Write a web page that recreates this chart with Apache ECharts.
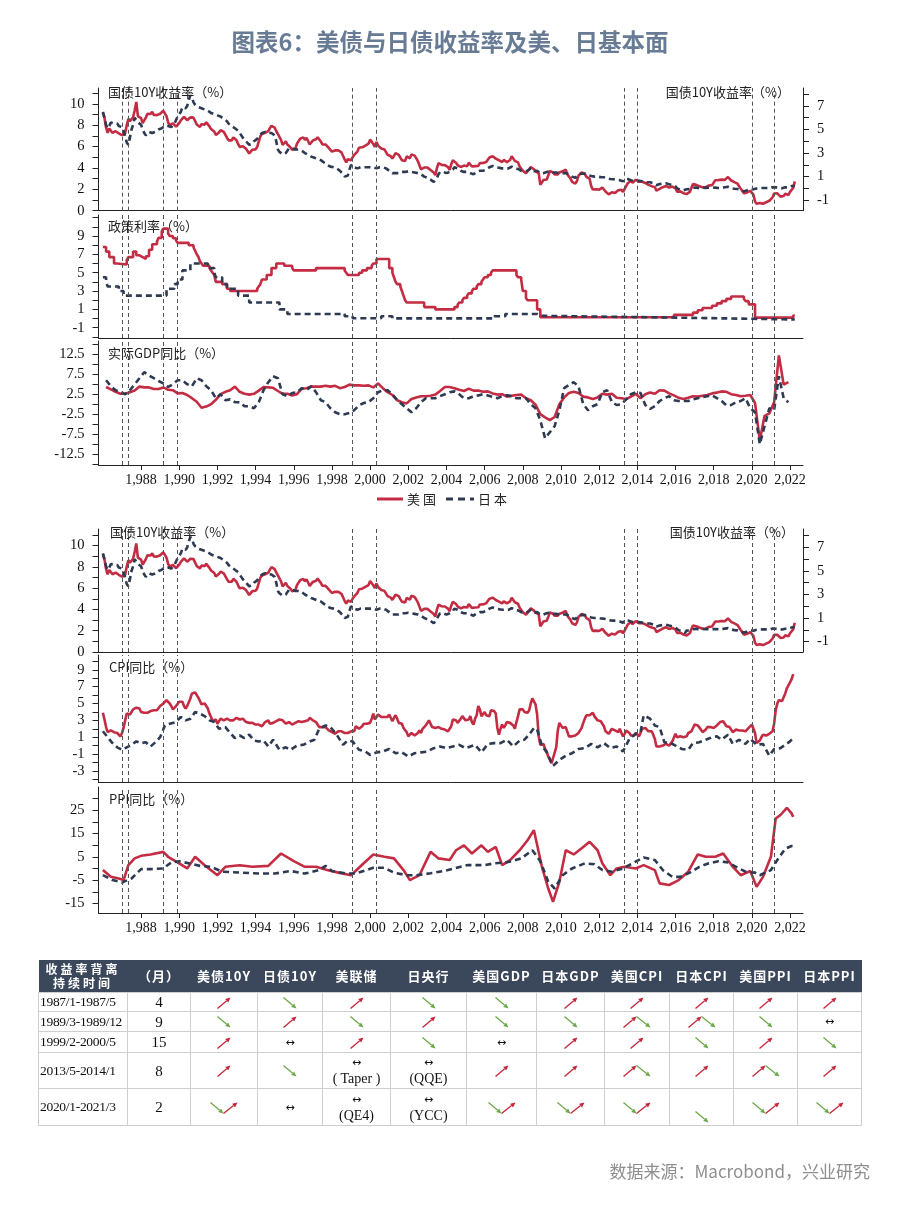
<!DOCTYPE html>
<html><head><meta charset="utf-8">
<script src="https://cdn.jsdelivr.net/npm/echarts@6/dist/echarts.min.js"></script>
<style>
html,body{margin:0;padding:0;background:#fff;}
#chart{position:absolute;left:0;top:0;width:900px;height:1218px;}
#tbl{position:absolute;left:38px;top:960px;width:823px;border-collapse:collapse;table-layout:fixed;}
#tbl th{background:#3b475a;color:#fff;font-family:"Noto Sans CJK SC",sans-serif;font-weight:bold;font-size:13px;letter-spacing:1px;padding:0;height:32px;line-height:14px;border:none;white-space:nowrap;}
#tbl td{border:1px solid #cfcfcf;text-align:center;vertical-align:middle;padding:0;font-family:"Liberation Serif",serif;font-size:14px;color:#111;line-height:16px;white-space:nowrap;}
#tbl td.p{text-align:left;padding-left:1px;font-size:13.5px;letter-spacing:-0.3px;}
#tbl td.m{font-size:15px;}
#tbl svg{display:inline-block;vertical-align:middle;}
.h{font-family:"DejaVu Sans",sans-serif;font-size:11px;}
</style></head><body>
<div id="chart"></div>
<table id="tbl"></table>
<script>
// ---------------- DATA ----------------
const START_YEAR = 1986; // monthly / quarterly arrays start in Jan 1986
const yearTicks = [1988,1990,1992,1994,1996,1998,2000,2002,2004,2006,2008,2010,2012,2014,2016,2018,2020,2022];
const divergenceDates = ['1987-01','1987-05','1989-03','1989-12','1999-02','2000-05','2013-05','2014-01','2020-01','2021-03'];

// US 10Y yield, monthly from 1986-01
const us10y = [
9.19,8.70,7.78,7.30,7.71,7.80,7.30,7.17,7.45,7.43,7.25,7.11,
7.08,7.25,7.25,8.02,8.61,8.40,8.45,8.76,9.42,10.2,8.86,8.99,
8.67,8.21,8.37,8.72,9.09,8.92,9.06,9.26,8.98,8.80,8.96,9.11,
9.09,9.17,9.36,9.18,8.86,8.28,8.02,8.11,8.19,8.01,7.87,7.84,
8.21,8.47,8.59,8.79,8.76,8.48,8.47,8.75,8.89,8.72,8.39,8.08,
8.09,7.85,8.11,8.04,8.07,8.28,8.27,7.90,7.65,7.53,7.42,7.09,
7.03,7.34,7.54,7.48,7.39,7.26,6.84,6.59,6.42,6.59,6.87,6.77,
6.60,6.26,5.98,5.97,6.04,5.96,5.81,5.68,5.36,5.33,5.72,5.77,
5.75,5.97,6.48,6.97,7.18,7.10,7.30,7.24,7.46,7.74,7.96,7.81,
7.78,7.47,7.20,7.06,6.63,6.17,6.28,6.49,6.20,6.04,5.93,5.71,
5.65,5.81,6.27,6.51,6.74,6.91,6.87,6.64,6.83,6.53,6.20,6.30,
6.58,6.42,6.69,6.89,6.71,6.49,6.22,6.30,6.21,6.03,5.88,5.81,
5.54,5.57,5.65,5.64,5.65,5.50,5.46,5.34,4.81,4.53,4.83,4.65,
4.72,5.00,5.23,5.18,5.54,5.90,5.79,5.94,5.92,6.11,6.03,6.28,
6.66,6.52,6.26,5.99,6.44,6.10,6.05,5.83,5.80,5.74,5.72,5.24,
5.16,5.10,4.89,5.14,5.39,5.28,5.24,4.97,4.73,4.57,4.65,5.09,
5.04,4.91,5.28,5.21,5.16,4.93,4.65,4.26,3.87,3.94,4.05,4.03,
4.05,3.90,3.81,3.96,3.57,3.33,3.98,4.45,4.27,4.29,4.30,4.27,
4.15,4.08,3.83,4.35,4.72,4.73,4.50,4.28,4.13,4.10,4.19,4.23,
4.22,4.17,4.50,4.34,4.14,4.00,4.18,4.26,4.20,4.46,4.54,4.47,
4.42,4.57,4.72,4.99,5.11,5.11,5.09,4.88,4.72,4.73,4.60,4.56,
4.76,4.72,4.56,4.69,4.75,5.10,5.00,4.67,4.52,4.53,4.15,4.10,
3.74,3.74,3.51,3.68,3.88,4.10,4.01,3.89,3.69,3.81,3.53,2.42,
2.52,2.87,2.82,2.93,3.29,3.72,3.56,3.59,3.40,3.39,3.40,3.59,
3.73,3.69,3.73,3.85,3.42,3.20,3.01,2.70,2.65,2.54,2.76,3.29,
3.39,3.58,3.41,3.46,3.17,3.00,3.00,2.30,1.98,2.15,2.01,1.98,
1.97,1.97,2.17,2.05,1.80,1.62,1.53,1.68,1.72,1.75,1.65,1.72,
1.91,1.98,1.96,1.76,1.93,2.30,2.58,2.74,2.81,2.62,2.72,2.90,
2.86,2.71,2.72,2.71,2.56,2.60,2.54,2.42,2.53,2.30,2.33,2.21,
1.88,1.98,2.04,1.94,2.20,2.36,2.32,2.17,2.17,2.07,2.26,2.24,
2.09,1.78,1.89,1.81,1.81,1.64,1.50,1.56,1.63,1.76,2.14,2.49,
2.43,2.42,2.48,2.30,2.30,2.19,2.32,2.21,2.20,2.36,2.35,2.40,
2.58,2.86,2.84,2.87,2.98,2.91,2.89,2.89,3.00,3.15,3.12,2.83,
2.71,2.68,2.57,2.53,2.40,2.07,2.06,1.63,1.70,1.71,1.81,1.86,
1.76,1.50,0.87,0.66,0.67,0.73,0.62,0.65,0.68,0.79,0.87,0.93,
1.08,1.26,1.61,1.64,1.62,1.52,1.32,1.28,1.37,1.58,1.56,1.47,
1.76,1.93,2.13,2.75];

// Japan 10Y yield, monthly from 1986-01 (right axis)
const jp10y = [
6.5,6.0,5.4,5.1,5.3,5.6,5.7,5.5,5.4,5.5,5.3,5.3,
5.2,4.9,4.4,3.9,3.7,4.3,5.0,5.4,6.0,5.8,5.6,5.5,
5.4,5.0,4.7,4.5,4.6,4.8,4.8,4.7,4.8,4.8,4.9,5.0,
5.0,5.1,5.2,5.3,5.2,5.3,5.3,5.2,5.3,5.5,5.8,6.1,
6.3,6.5,6.9,6.8,6.8,7.0,7.5,7.9,7.7,7.3,7.1,7.0,
6.9,6.8,6.8,6.8,6.7,6.7,6.6,6.5,6.4,6.4,6.3,6.25,
6.2,6.1,6.1,6.0,5.9,5.8,5.7,5.5,5.4,5.3,5.2,5.1,
5.1,4.9,4.7,4.5,4.3,4.2,4.0,3.9,3.7,3.6,3.8,4.0,
4.1,4.2,4.4,4.5,4.7,4.8,4.8,4.7,4.7,4.7,4.7,4.6,
4.5,4.0,3.3,3.1,3.0,2.9,2.8,3.0,3.2,3.4,3.5,3.4,
3.3,3.3,3.3,3.3,3.2,3.2,3.1,3.0,2.9,2.85,2.8,2.7,
2.65,2.6,2.55,2.5,2.45,2.4,2.3,2.2,2.1,2.0,1.9,1.85,
1.8,1.8,1.7,1.7,1.6,1.5,1.4,1.2,1.0,0.85,1.1,1.6,
2.0,1.9,1.8,1.8,1.7,1.7,1.8,1.8,1.8,1.8,1.8,1.8,
1.8,1.8,1.8,1.7,1.7,1.7,1.8,1.8,1.8,1.7,1.7,1.6,
1.5,1.4,1.3,1.3,1.3,1.2,1.3,1.4,1.4,1.4,1.4,1.4,
1.45,1.45,1.4,1.4,1.35,1.3,1.3,1.2,1.2,1.1,1.0,1.0,
0.9,0.8,0.75,0.65,0.55,0.6,0.9,1.2,1.4,1.4,1.4,1.3,
1.3,1.3,1.4,1.5,1.6,1.8,1.8,1.7,1.6,1.5,1.5,1.4,
1.4,1.4,1.4,1.3,1.3,1.2,1.3,1.4,1.4,1.5,1.5,1.5,
1.5,1.6,1.7,1.8,1.9,1.9,1.9,1.8,1.7,1.75,1.7,1.7,
1.7,1.7,1.6,1.7,1.7,1.85,1.85,1.7,1.65,1.65,1.55,1.5,
1.45,1.45,1.35,1.5,1.65,1.7,1.6,1.45,1.5,1.5,1.45,1.3,
1.3,1.3,1.3,1.4,1.45,1.45,1.35,1.35,1.3,1.35,1.4,1.3,
1.3,1.3,1.35,1.3,1.25,1.2,1.1,1.0,1.0,0.9,1.05,1.2,
1.2,1.25,1.25,1.25,1.15,1.15,1.1,1.05,1.0,1.0,1.0,1.0,
0.98,0.96,1.0,0.95,0.85,0.85,0.78,0.8,0.8,0.78,0.74,0.75,
0.76,0.7,0.58,0.6,0.82,0.85,0.8,0.75,0.7,0.62,0.62,0.7,
0.67,0.6,0.63,0.62,0.59,0.57,0.54,0.5,0.53,0.46,0.45,0.35,
0.27,0.37,0.37,0.33,0.4,0.46,0.43,0.38,0.36,0.31,0.3,0.28,
0.17,0.0,-0.05,-0.1,-0.12,-0.17,-0.27,-0.07,-0.06,-0.06,-0.02,0.05,
0.07,0.08,0.07,0.02,0.04,0.06,0.08,0.05,0.04,0.06,0.04,0.05,
0.08,0.07,0.04,0.04,0.05,0.04,0.06,0.1,0.12,0.14,0.11,0.03,
0.0,-0.03,-0.05,-0.05,-0.08,-0.13,-0.15,-0.25,-0.2,-0.15,-0.08,-0.02,
-0.02,-0.08,0.0,0.0,0.0,0.02,0.03,0.04,0.02,0.03,0.02,0.02,
0.04,0.1,0.1,0.09,0.08,0.05,0.02,0.02,0.04,0.09,0.07,0.07,
0.15,0.2,0.2,0.23];

// Policy rates, [month, level] change points (step series)
const usPolicy = [
['1986-01',7.8],['1986-03',7.3],['1986-05',6.7],['1986-08',6.0],['1986-10',5.9],['1987-04',6.4],['1987-05',6.7],['1987-08',7.3],['1987-10',6.9],['1987-12',6.7],
['1988-02',6.5],['1988-04',6.8],['1988-06',7.5],['1988-08',8.1],['1988-11',8.4],['1988-12',8.8],['1989-02',9.5],['1989-03',9.8],['1989-06',9.3],['1989-07',9.0],
['1989-09',8.75],['1989-11',8.5],['1989-12',8.25],['1990-07',8.0],['1990-10',7.75],['1990-11',7.4],['1990-12',7.0],['1991-01',6.75],['1991-02',6.25],['1991-03',6.0],
['1991-04',5.75],['1991-08',5.5],['1991-09',5.25],['1991-10',5.0],['1991-11',4.75],['1991-12',4.0],['1992-04',3.75],['1992-07',3.25],['1992-09',3.0],['1994-02',3.25],
['1994-03',3.5],['1994-04',3.75],['1994-05',4.25],['1994-08',4.75],['1994-11',5.5],['1995-02',6.0],['1995-07',5.75],['1995-12',5.5],['1996-01',5.25],['1997-03',5.5],
['1998-09',5.25],['1998-10',5.0],['1998-11',4.75],['1999-06',5.0],['1999-08',5.25],['1999-11',5.5],['2000-02',5.75],['2000-03',6.0],['2000-05',6.5],['2001-01',5.5],
['2001-03',5.0],['2001-04',4.5],['2001-05',4.0],['2001-06',3.75],['2001-08',3.5],['2001-09',3.0],['2001-10',2.5],['2001-11',2.0],['2001-12',1.75],['2002-11',1.25],
['2003-06',1.0],['2004-06',1.25],['2004-08',1.5],['2004-09',1.75],['2004-11',2.0],['2004-12',2.25],['2005-02',2.5],['2005-03',2.75],['2005-05',3.0],['2005-06',3.25],
['2005-08',3.5],['2005-09',3.75],['2005-11',4.0],['2005-12',4.25],['2006-01',4.5],['2006-03',4.75],['2006-05',5.0],['2006-06',5.25],['2007-09',4.75],['2007-10',4.5],
['2007-12',4.25],['2008-01',3.0],['2008-03',2.25],['2008-04',2.0],['2008-10',1.0],['2008-12',0.15],['2015-12',0.4],['2016-12',0.65],['2017-03',0.9],['2017-06',1.15],
['2017-12',1.4],['2018-03',1.65],['2018-06',1.9],['2018-09',2.15],['2018-12',2.4],['2019-08',2.15],['2019-09',1.9],['2019-11',1.55],['2020-03',0.1],['2022-03',0.33],['2022-04',0.33]];
const jpPolicy = [
['1986-01',4.5],['1986-03',4.0],['1986-04',3.5],['1986-11',3.0],['1987-02',2.5],['1989-05',3.25],['1989-10',3.75],['1989-12',4.25],['1990-03',5.25],['1990-08',6.0],
['1991-07',5.5],['1991-11',5.0],['1991-12',4.5],['1992-04',3.75],['1992-07',3.25],['1993-02',2.5],['1993-09',1.75],['1995-04',1.0],['1995-09',0.5],['1998-09',0.25],
['1999-02',0.03],['2000-08',0.25],['2001-03',0.02],['2006-07',0.25],['2007-02',0.5],['2008-10',0.3],['2008-12',0.1],['2016-02',-0.1],['2022-04',-0.1]];

// Real GDP y/y, quarterly from 1986Q1
const usGdp = [
4.3,3.7,3.1,2.6, 2.6,3.0,3.4,4.4, 4.2,4.2,3.8,3.8, 4.2,3.6,3.5,2.7, 2.8,2.3,1.5,0.6,
-0.9,-0.6,0.0,1.1, 2.5,3.1,3.5,4.4, 3.1,2.6,2.4,2.6, 3.4,4.3,4.2,4.1, 3.3,2.6,2.6,2.2,
2.5,3.9,4.0,4.4, 4.4,4.4,4.6,4.4, 4.6,4.0,4.3,4.9, 4.7,4.7,4.6,4.7, 4.2,5.2,4.0,3.0,
2.3,1.0,0.5,0.2, 1.3,1.7,2.0,2.0, 2.1,2.4,3.3,4.3, 4.3,4.0,3.6,3.3, 3.9,3.4,3.4,3.1,
3.2,2.7,2.4,2.5, 1.9,2.1,2.3,2.4, 1.5,1.0,-0.1,-2.5, -3.3,-4.0,-3.2,0.0, 1.7,2.8,3.1,2.8,
1.9,1.7,1.3,1.7, 2.6,2.4,2.6,1.6, 1.5,1.3,1.9,2.6, 1.5,2.5,2.9,2.6, 3.5,3.4,2.7,2.2,
1.6,1.3,1.6,2.0, 1.9,2.1,2.3,2.7, 2.9,3.2,3.1,2.5, 2.3,2.0,2.1,2.3, 0.3,-9.1,-2.9,-2.3,
0.5,12.2,4.9,5.5];
const jpGdp = [
6.0,4.5,3.5,3.0, 2.5,3.5,5.0,6.5, 8.0,7.2,6.5,5.8, 5.2,4.3,5.0,6.0, 6.0,5.0,4.5,6.5,
6.0,4.5,3.5,1.5, 2.5,1.0,1.2,0.5, 0.5,-0.5,-0.5,-1.0, 0.5,3.5,5.5,7.0, 6.5,2.5,2.0,2.8,
3.0,4.0,3.5,4.5, 3.0,1.0,0.5,-1.0, -2.0,-2.5,-2.5,-2.2, -1.5,-0.3,0.3,0.5, 1.5,3.0,3.5,3.5,
2.5,1.0,0.0,-1.0, -2.0,-1.0,0.5,1.5, 1.5,1.5,2.0,2.5, 3.0,3.2,2.5,1.5, 1.5,2.0,2.2,2.5,
2.2,1.8,1.5,2.0, 2.2,2.0,1.5,1.5, 1.5,0.0,-1.0,-4.0, -8.5,-7.0,-5.5,-1.5, 4.0,4.8,5.5,4.5,
0.0,-1.5,-0.5,0.0, 3.0,3.5,0.5,-0.2, 0.0,1.2,2.5,3.0, 2.8,-0.2,-1.2,-0.5, 0.8,1.5,2.0,1.0,
0.8,0.8,0.8,1.2, 1.5,1.8,2.0,2.2, 1.5,0.8,-0.3,-0.2, 0.5,0.8,1.5,-1.0, -2.0,-10.0,-5.5,-1.0,
-1.5,7.0,1.5,0.5];

// CPI y/y: US monthly from 1986-01; Japan [month, value]
const usCpi = [
3.9,3.1,2.2,1.6,1.5,1.8,1.6,1.6,1.8,1.5,1.3,1.1,
1.5,2.1,3.0,3.8,3.9,3.7,3.9,4.3,4.4,4.5,4.5,4.4,
4.0,3.9,3.9,3.9,3.9,4.0,4.1,4.0,4.2,4.2,4.2,4.4,
4.7,4.8,5.0,5.1,5.4,5.2,5.0,4.7,4.3,4.5,4.7,4.6,
5.2,5.3,5.2,4.7,4.4,4.7,4.8,5.6,6.2,6.3,6.3,6.1,
5.7,5.3,4.9,4.9,5.0,4.7,4.4,3.8,3.4,2.9,3.0,3.1,
2.6,2.8,3.2,3.2,3.0,3.1,3.2,3.1,3.0,3.2,3.0,2.9,
3.3,3.2,3.1,3.2,3.2,3.0,2.8,2.8,2.7,2.8,2.7,2.7,
2.5,2.5,2.5,2.4,2.3,2.5,2.8,2.9,3.0,2.6,2.7,2.7,
2.8,2.9,2.9,3.1,3.2,3.0,2.8,2.6,2.5,2.8,2.6,2.5,
2.7,2.7,2.8,2.9,2.9,2.8,3.0,2.9,3.0,3.0,3.3,3.3,
3.0,3.0,2.8,2.5,2.2,2.3,2.2,2.2,2.2,2.1,1.8,1.7,
1.6,1.4,1.4,1.4,1.7,1.7,1.7,1.6,1.5,1.5,1.5,1.6,
1.7,1.6,1.7,2.3,2.1,2.0,2.1,2.3,2.6,2.6,2.6,2.7,
2.7,3.2,3.8,3.1,3.2,3.7,3.7,3.4,3.5,3.4,3.4,3.4,
3.7,3.5,2.9,3.3,3.6,3.2,2.7,2.7,2.6,2.1,1.9,1.6,
1.1,1.1,1.5,1.6,1.2,1.1,1.5,1.8,1.5,2.0,2.2,2.4,
2.6,3.0,3.0,2.2,2.1,2.1,2.1,2.2,2.3,2.0,1.8,1.9,
1.9,1.7,1.7,2.3,3.1,3.3,3.0,2.7,2.5,3.2,3.5,3.3,
3.0,3.0,3.1,3.5,2.8,2.5,3.2,3.6,4.7,4.3,3.5,3.4,
4.0,3.6,3.4,3.5,4.2,4.3,4.1,3.8,2.1,1.3,2.0,2.5,
2.1,2.4,2.8,2.6,2.7,2.7,2.4,2.0,2.8,3.5,4.3,4.1,
4.3,4.0,4.0,3.9,4.2,5.0,5.6,5.4,4.9,3.7,1.1,0.1,
0.0,0.2,-0.4,-0.7,-1.3,-1.4,-2.1,-1.5,-1.3,-0.2,1.8,2.7,
2.6,2.1,2.3,2.2,2.0,1.1,1.2,1.1,1.1,1.2,1.1,1.5,
1.6,2.1,2.7,3.2,3.6,3.6,3.6,3.8,3.9,3.5,3.4,3.0,
2.9,2.9,2.7,2.3,1.7,1.7,1.4,1.7,2.0,2.2,1.8,1.7,
1.6,2.0,1.5,1.1,1.4,1.8,2.0,1.5,1.2,1.0,1.2,1.5,
1.6,1.1,1.5,2.0,2.1,2.1,2.0,1.7,1.7,1.7,1.3,0.8,
-0.1,0.0,-0.1,-0.2,0.0,0.1,0.2,0.2,0.0,0.2,0.5,0.7,
1.4,1.0,0.9,1.1,1.0,1.0,0.8,1.1,1.5,1.6,1.7,2.1,
2.5,2.7,2.4,2.2,1.9,1.6,1.7,1.9,2.2,2.0,2.2,2.1,
2.1,2.2,2.4,2.5,2.8,2.9,2.9,2.7,2.3,2.5,2.2,1.9,
1.6,1.5,1.9,2.0,1.8,1.6,1.8,1.7,1.7,1.8,2.1,2.3,
2.5,2.3,1.5,0.3,0.1,0.6,1.0,1.3,1.4,1.2,1.2,1.4,
1.4,1.7,2.6,4.2,5.0,5.4,5.4,5.3,5.4,6.2,6.8,7.0,
7.5,7.9,8.5];
const jpCpi = [
['1986-01',1.7],['1986-04',1.0],['1986-07',0.3],['1986-10',-0.2],['1987-01',-0.5],['1987-04',-0.2],['1987-07',0.1],['1987-10',0.5],['1988-01',0.3],['1988-04',0.4],
['1988-07',-0.1],['1988-10',0.4],['1989-01',1.0],['1989-04',2.4],['1989-07',2.6],['1989-11',2.8],['1990-02',3.4],['1990-05',3.0],['1990-08',3.2],['1990-11',4.0],
['1991-02',3.8],['1991-05',3.5],['1991-08',3.0],['1991-11',2.8],['1992-02',2.0],['1992-06',2.2],['1992-09',1.5],['1992-12',0.9],['1993-03',1.2],['1993-06',0.9],
['1993-09',1.3],['1993-12',0.6],['1994-03',0.5],['1994-06',0.6],['1994-09',-0.1],['1994-12',0.7],['1995-04',-0.5],['1995-08',-0.2],['1995-11',-0.5],['1996-03',0.0],
['1996-07',0.1],['1996-11',0.5],['1997-02',0.7],['1997-05',2.0],['1997-09',2.4],['1997-12',2.2],['1998-04',1.3],['1998-08',0.1],['1998-11',0.6],['1999-02',0.5],
['1999-06',-0.5],['1999-10',-0.7],['2000-01',-1.1],['2000-05',-0.8],['2000-09',-0.7],['2001-01',-0.4],['2001-05',-0.9],['2001-09',-0.8],['2002-01',-1.3],['2002-05',-0.9],
['2002-09',-0.8],['2003-01',-0.7],['2003-05',-0.3],['2003-09',-0.1],['2004-01',-0.3],['2004-05',-0.1],['2004-09',0.1],['2005-01',-0.3],['2005-07',0.1],['2005-11',-0.8],
['2006-03',0.2],['2006-07',0.3],['2006-11',0.3],['2007-03',0.7],['2007-07',-0.1],['2007-11',0.6],['2008-02',0.7],['2008-05',1.3],['2008-08',2.1],['2008-10',1.9],
['2009-01',0.0],['2009-04',-0.8],['2009-08',-2.4],['2009-12',-1.7],['2010-04',-1.2],['2010-08',-0.9],['2010-12',-0.4],['2011-04',-0.3],['2011-08',0.2],['2011-12',-0.2],
['2012-04',0.3],['2012-08',-0.3],['2012-12',-0.1],['2013-04',-0.7],['2013-08',0.8],['2013-12',1.4],['2014-03',1.6],['2014-05',3.6],['2014-09',3.2],['2014-12',2.4],
['2015-03',2.2],['2015-06',0.4],['2015-10',0.3],['2016-01',0.0],['2016-05',-0.4],['2016-09',-0.5],['2016-12',0.3],['2017-04',0.4],['2017-08',0.7],['2017-12',1.0],
['2018-03',1.1],['2018-06',0.7],['2018-10',1.3],['2019-01',0.2],['2019-05',0.7],['2019-09',0.2],['2019-12',0.8],['2020-04',0.1],['2020-08',0.2],['2020-12',-1.2],
['2021-03',-0.4],['2021-07',-0.3],['2021-10',0.1],['2022-01',0.5],['2022-03',0.9]];

// PPI y/y, [month, value]
const usPpi = [
['1986-01',-0.7],['1986-06',-3.6],['1986-11',-4.3],['1987-02',-5.0],['1987-05',1.4],['1987-09',4.3],['1988-01',5.4],['1988-07',6.0],['1989-03',7.1],['1989-06',5.0],
['1990-01',2.2],['1990-06',0.0],['1990-11',5.0],['1991-05',1.4],['1992-01',-2.9],['1992-06',0.7],['1993-03',1.4],['1993-11',0.7],['1994-09',1.1],['1995-05',6.4],
['1996-01',3.1],['1996-08',0.7],['1997-03',0.7],['1997-10',-0.7],['1998-05',-1.8],['1999-01',-2.9],['1999-09',2.2],['2000-03',6.0],['2000-10',5.0],['2001-04',4.3],
['2001-10',-0.7],['2002-02',-5.0],['2002-08',-2.9],['2003-03',7.1],['2003-08',4.3],['2004-03',3.6],['2004-07',7.8],['2004-12',9.9],['2005-05',6.4],['2005-11',9.9],
['2006-03',7.1],['2006-08',9.2],['2006-12',1.4],['2007-05',3.6],['2007-11',7.8],['2008-04',12.1],['2008-08',16.4],['2009-01',0.7],['2009-05',-8.6],['2009-08',-14.3],
['2009-12',-5.7],['2010-04',7.8],['2010-09',6.0],['2011-03',9.2],['2011-07',11.4],['2011-12',7.8],['2012-03',2.2],['2012-08',-2.9],['2012-12',0.0],['2013-05',0.7],
['2013-12',0.0],['2014-05',1.4],['2014-12',-0.7],['2015-03',-6.4],['2015-09',-7.1],['2016-03',-5.0],['2016-09',-1.4],['2017-03',6.0],['2017-08',5.0],['2018-02',5.0],
['2018-07',6.4],['2019-01',0.7],['2019-06',-2.9],['2019-12',-1.1],['2020-04',-7.9],['2020-08',-3.6],['2021-01',5.0],['2021-04',21.4],['2021-07',22.9],['2021-11',26.0],
['2022-02',23.6],['2022-03',22.1]];
const jpPpi = [
['1986-01',-2.9],['1986-07',-5.0],['1987-01',-6.0],['1987-07',-4.3],['1988-01',-0.3],['1988-07',-0.3],['1989-03',0.0],['1989-08',2.6],['1990-01',3.1],['1990-07',2.2],
['1991-02',1.1],['1991-09',0.7],['1992-04',-1.4],['1993-04',-1.8],['1994-04',-2.2],['1995-01',-2.2],['1995-11',-1.1],['1996-08',-2.2],['1997-05',-0.7],['1997-09',1.1],
['1998-01',-1.1],['1998-10',-2.2],['1999-04',-2.2],['2000-03',0.3],['2000-10',0.3],['2001-04',-1.8],['2001-12',-2.9],['2002-06',-2.9],['2003-03',-2.1],['2004-02',-0.7],
['2005-02',1.4],['2006-01',1.4],['2006-07',2.2],['2007-03',2.6],['2007-12',4.3],['2008-07',7.8],['2008-12',3.1],['2009-05',-5.7],['2009-09',-8.6],['2010-02',-2.9],
['2010-08',0.0],['2011-04',2.2],['2011-10',1.8],['2012-03',-0.7],['2012-09',-1.4],['2013-04',0.0],['2013-10',2.2],['2014-05',4.7],['2014-12',3.6],['2015-05',-0.7],
['2015-11',-3.6],['2016-04',-3.6],['2016-10',-1.8],['2017-04',0.7],['2017-10',2.2],['2018-04',3.1],['2018-10',2.6],['2019-04',0.3],['2019-09',-1.4],['2020-03',-1.8],
['2020-06',-2.9],['2021-01',-0.7],['2021-05',3.6],['2021-10',8.5],['2022-02',9.6],['2022-03',9.6]];

// Legend & table
const legendNames = ['美国','日本'];
const tblHead = ['收益率背离<br>持续时间','（月）','美债10Y','日债10Y','美联储','日央行','美国GDP','日本GDP','美国CPI','日本CPI','美国PPI','日本PPI'];
const tblPeriods = ['1987/1-1987/5','1989/3-1989/12','1999/2-2000/5','2013/5-2014/1','2020/1-2021/3'];
const tblMonths = ['4','9','15','8','2'];
const tblMoves = [
 ['u','d','u','d','d','u','u','u','u','u'],
 ['d','u','d','u','d','d','ud','ud','d','h'],
 ['u','h','u','d','h','u','u','d','u','d'],
 ['u','d','h:( Taper )','h:(QQE)','u','u','ud','u','ud','u'],
 ['du','h','h:(QE4)','h:(YCC)','du','du','du','dl','du','du']];

// ---------------- HELPERS ----------------
const ym = s => { const [y,m] = s.split('-').map(Number); return y + (m-1)/12; };
const monthly = arr => arr.map((v,i) => [START_YEAR + i/12, v]);
const quarterly = arr => arr.map((v,i) => [START_YEAR + (i*3+2)/12, v]);
const pairs = arr => arr.map(([d,v]) => [ym(d), v]);
const range = (a,b,s) => { const r=[]; for(let v=a; v<=b+1e-9; v+=s) r.push(Math.round(v*100)/100); return r; };

const RED = '#c42c43', NAVY = '#2e3a52';
const FNUM = 'Liberation Serif';
const FCJK = 'Noto Sans CJK SC';
const X_MIN = 1985.77, X_MAX = 2022.68;
const divX = divergenceDates.map(ym);

const grids = [
 {left:98.5, right:97, top:88, height:122.7},
 {left:98.5, right:97, top:215, height:123},
 {left:98.5, right:97, top:341, height:124},
 {left:98.5, right:97, top:529, height:123},
 {left:98.5, right:97, top:655, height:127},
 {left:98.5, right:97, top:787, height:126}
];
function xAx(g, lab){
 return {type:'value', gridIndex:g, min:X_MIN, max:X_MAX,
  axisLine:{show:true, onZero:false, lineStyle:{color:'#222', width:1}},
  axisTick:{show:lab, customValues:yearTicks, length:5, lineStyle:{color:'#222'}},
  axisLabel:{show:lab, customValues:yearTicks, margin:8, fontSize:14, fontFamily:FNUM, color:'#111'},
  splitLine:{show:false}};
}
function yAx(g, min, max, ticks, labels, pos){
 return {type:'value', gridIndex:g, min, max, position:pos||'left',
  axisLine:{show:true, onZero:false, lineStyle:{color:'#222', width:1}},
  axisTick:{show:true, inside:false, length:6, customValues:ticks, lineStyle:{color:'#222'}},
  axisLabel:{show:true, customValues:labels, margin:pos==='right'?14:14, fontSize:14.5, fontFamily:FNUM, color:'#111'},
  splitLine:{show:false}};
}
const mark = {silent:true, symbol:['none','none'], label:{show:false}, animation:false,
  lineStyle:{color:'#555', width:1, type:[4,3]}, emphasis:{disabled:true},
  data: divX.map(x => ({xAxis:x}))};
function ser(name, xi, yi, data, us, step){
 const s = {type:'line', name, xAxisIndex:xi, yAxisIndex:yi, data, symbol:'none', showSymbol:false,
  step: step ? 'end' : false, silent:true, animation:false, z: us?3:4,
  lineStyle: us ? {color:RED, width:2.6} : {color:NAVY, width:2.6, type:[6,4]},
  itemStyle:{color: us?RED:NAVY}};
 if (us) s.markLine = mark;
 return s;
}

const xAxes = [xAx(0,false), xAx(1,false), xAx(2,true), xAx(3,false), xAx(4,false), xAx(5,true)];
const yAxes = [
 yAx(0, 0, 11.5, range(0,11,1), range(0,10,2)),
 yAx(0, -1.89, 8.52, range(-1,8,1), range(-1,7,2), 'right'),
 yAx(1, -2.12, 11.29, range(-2,11,1), range(-1,9,2)),
 yAx(2, -15.2, 15.8, range(-15,15,2.5), range(-12.5,12.5,5)),
 yAx(3, 0, 11.55, range(0,11,1), range(0,10,2)),
 yAx(3, -1.89, 8.57, range(-1,8,1), range(-1,7,2), 'right'),
 yAx(4, -4.32, 10.76, range(-4,10,1), range(-3,9,2)),
 yAx(5, -19.1, 34.9, range(-15,30,5), range(-15,25,10))
];
const series = [
 ser(legendNames[0],0,0,monthly(us10y),true), ser(legendNames[1],0,1,monthly(jp10y),false),
 ser(legendNames[0],1,2,pairs(usPolicy),true,true), ser(legendNames[1],1,2,pairs(jpPolicy),false,true),
 ser(legendNames[0],2,3,quarterly(usGdp),true), ser(legendNames[1],2,3,quarterly(jpGdp),false),
 ser(legendNames[0],3,4,monthly(us10y),true), ser(legendNames[1],3,5,monthly(jp10y),false),
 ser(legendNames[0],4,6,monthly(usCpi),true), ser(legendNames[1],4,6,pairs(jpCpi),false),
 ser(legendNames[0],5,7,pairs(usPpi),true), ser(legendNames[1],5,7,pairs(jpPpi),false)
];
const labels = [
 ['国债10Y收益率（%）',108,92,'left'], ['国债10Y收益率（%）',790,92,'right'],
 ['政策利率（%）',108,226,'left'], ['实际GDP同比（%）',108,353,'left'],
 ['国债10Y收益率（%）',110,532,'left'], ['国债10Y收益率（%）',794,532,'right'],
 ['CPI同比（%）',109,667,'left'], ['PPI同比（%）',109,799,'left']];
const graphic = labels.map(([t,x,y,a]) => ({type:'text', x, y, silent:true, z:10,
  style:{text:t, fill:'#222', font:`13px "${FCJK}"`, textAlign:a, textVerticalAlign:'middle'}}));
// legend (line keys without point markers)
graphic.push({type:'line', silent:true, shape:{x1:377, y1:499, x2:403, y2:499}, style:{stroke:RED, lineWidth:3}});
graphic.push({type:'text', x:407, y:499, silent:true, style:{text:legendNames[0].split('').join(' '), fill:'#222', font:`13px "${FCJK}"`, textVerticalAlign:'middle'}});
graphic.push({type:'line', silent:true, shape:{x1:446, y1:499, x2:474, y2:499}, style:{stroke:NAVY, lineWidth:3, lineDash:[7,5]}});
graphic.push({type:'text', x:478, y:499, silent:true, style:{text:legendNames[1].split('').join(' '), fill:'#222', font:`13px "${FCJK}"`, textVerticalAlign:'middle'}});
graphic.push({type:'text', x:870, y:1172, silent:true,
  style:{text:'数据来源：Macrobond，兴业研究', fill:'#8e8e8e', font:`17px "${FCJK}"`, textAlign:'right', textVerticalAlign:'middle'}});

const chart = echarts.init(document.getElementById('chart'), null, {renderer:'canvas'});
chart.setOption({
 animation:false, backgroundColor:'#fff',
 title:{text:'图表6：美债与日债收益率及美、日基本面', left:'center', top:25,
   textStyle:{fontSize:23.5, fontWeight:'bold', color:'#687b95', fontFamily:FCJK}},
 grid:grids, xAxis:xAxes, yAxis:yAxes, series, graphic
});

// ---------------- TABLE ----------------
function seg(x0,y0,x1,y1,c){
 const dx=x1-x0, dy=y1-y0, L=Math.hypot(dx,dy), ux=dx/L, uy=dy/L, hl=5, hw=2.3;
 const bx=x1-ux*hl, by=y1-uy*hl, px=-uy*hw, py=ux*hw;
 return `<line x1="${x0}" y1="${y0}" x2="${bx}" y2="${by}" stroke="${c}" stroke-width="1.3"/>`+
  `<polygon points="${x1},${y1} ${bx+px},${by+py} ${bx-px},${by-py}" fill="${c}"/>`;
}
const svg = (w,h,inner,extra) => `<svg width="${w}" height="${h}" ${extra||''}>${inner}</svg>`;
function cell(t){
 const R='#c3263b', G='#6ea84b';
 if (t==='u') return svg(16,14, seg(1.5,12.5,14.5,1.5,R));
 if (t==='d') return svg(16,14, seg(1.5,1.5,14.5,12.5,G));
 if (t==='dl') return svg(16,14, seg(1.5,1.5,14.5,12.5,G), 'style="position:relative;top:9px"');
 if (t==='ud') return svg(30,14, seg(1.5,12.5,14.5,1.5,R)+seg(14.5,1.5,28.5,12.5,G));
 if (t==='du') return svg(30,14, seg(1.5,1.5,14.5,12.5,G)+seg(14.5,12.5,28.5,1.5,R));
 if (t==='h') return '<span class="h">↔</span>';
 if (t.startsWith('h:')) return '<span class="h">↔</span><br>' + t.slice(2);
 return t;
}
const colW = [89,63,67,65,68,76,70,68,65,64,64,64];
const rowH = [19,20,21,36,37];
let html = '<colgroup>' + colW.map(w=>`<col style="width:${w}px">`).join('') + '</colgroup>';
html += '<tr>' + tblHead.map((h,i)=> i===0 ? `<th style="font-size:12px;letter-spacing:3px;">${h}</th>` : `<th>${h}</th>`).join('') + '</tr>';
tblPeriods.forEach((p,r) => {
 html += `<tr style="height:${rowH[r]}px"><td class="p">${p}</td><td class="m">${tblMonths[r]}</td>` +
   tblMoves[r].map(m => `<td>${cell(m)}</td>`).join('') + '</tr>';
});
document.getElementById('tbl').innerHTML = html;
</script>
</body></html>
